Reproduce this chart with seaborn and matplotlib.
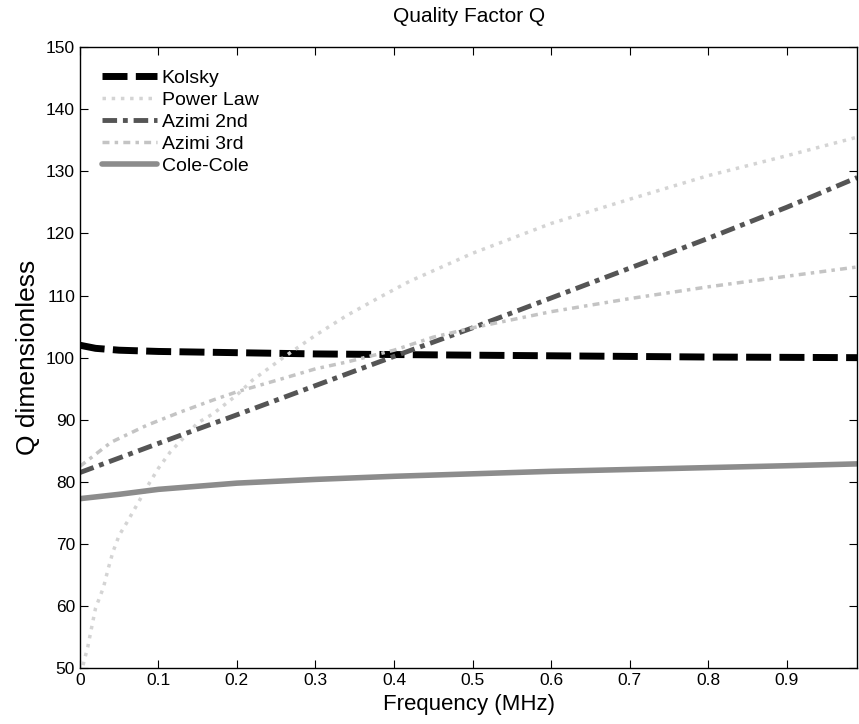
import numpy as np
import pandas as pd
import seaborn as sns
import matplotlib.pyplot as plt

# values
kolsky_f = [0.0, 0.02, 0.05, 0.1, 0.2, 0.3, 0.4, 0.5, 0.6, 0.7, 0.8, 0.9, 0.99]
kolsky_q = [102.0, 101.5, 101.2, 101.0, 100.8, 100.6, 100.5, 100.4, 100.3, 100.2, 100.1, 100.05, 100.0]

power_f = [0.004, 0.01, 0.015, 0.02, 0.03, 0.036, 0.042, 0.05, 0.06, 0.074, 0.087, 0.1, 0.115,
           0.15, 0.17, 0.2, 0.22, 0.26, 0.3, 0.34, 0.38, 0.42, 0.5, 0.6, 0.7, 0.8, 0.9, 0.99]
power_q = [50.5, 53.4, 56.6, 59.7, 63.0, 66.0, 68.7, 71.4, 73.5, 76.6, 79.5, 82.2, 84.8,
           89.5, 91.0, 94.0, 96.4, 100.1, 103.6, 106.8, 109.6, 112.3, 116.8, 121.6, 125.5, 129.3, 132.5, 135.5]

azimi2_f = [0.0, 0.1, 0.2, 0.3, 0.4, 0.5, 0.6, 0.7, 0.8, 0.9, 0.99]
azimi2_q = [81.5, 86.2, 90.8, 95.5, 100.2, 104.8, 109.6, 114.4, 119.2, 124.2, 129.0]

azimi3_f = [0.0, 0.04, 0.085, 0.127, 0.17, 0.2, 0.26, 0.3, 0.34, 0.4, 0.45, 0.5, 0.6, 0.7, 0.8, 0.9, 0.99]
azimi3_q = [82.5, 86.4, 89.1, 91.2, 93.2, 94.5, 96.7, 98.2, 99.3, 101.2, 103.3, 104.8, 107.4, 109.5, 111.4, 113.1, 114.6]

cole_f = [0.0, 0.05, 0.1, 0.2, 0.3, 0.4, 0.5, 0.6, 0.7, 0.8, 0.9, 0.99]
cole_q = [77.3, 78.0, 78.8, 79.8, 80.4, 80.9, 81.3, 81.7, 82.0, 82.3, 82.6, 82.9]

sns.set_style("ticks")
plt.rcParams['font.family'] = ['Liberation Sans', 'DejaVu Sans']
plt.rcParams['text.color'] = 'black'
plt.rcParams['axes.labelcolor'] = 'black'
plt.rcParams['xtick.color'] = 'black'
plt.rcParams['ytick.color'] = 'black'
plt.rcParams['axes.edgecolor'] = 'black'

fig = plt.figure(figsize=(8.59, 7.24), dpi=100)
ax = fig.add_axes([0.093, 0.077, 0.905, 0.858])

sns.lineplot(x=kolsky_f, y=kolsky_q, ax=ax, color='black', lw=5, label='Kolsky')
ax.lines[-1].set_dashes([3.6, 1.2])
sns.lineplot(x=power_f, y=power_q, ax=ax, color='#d4d4d4', lw=2.5, label='Power Law')
ax.lines[-1].set_linestyle(':')
sns.lineplot(x=azimi2_f, y=azimi2_q, ax=ax, color='#555555', lw=3.5, label='Azimi 2nd')
ax.lines[-1].set_dashes([3, 1.2, 1, 1.2])
sns.lineplot(x=azimi3_f, y=azimi3_q, ax=ax, color='#c4c4c4', lw=2.5, label='Azimi 3rd')
ax.lines[-1].set_dashes([2, 1.5, 1, 1.5])
sns.lineplot(x=cole_f, y=cole_q, ax=ax, color='#8c8c8c', lw=4, label='Cole-Cole')

ax.set_xlim(0, 0.99)
ax.set_ylim(50, 150)
ax.set_xticks(np.arange(0, 0.95, 0.1))
ax.set_xticklabels(['0', '0.1', '0.2', '0.3', '0.4', '0.5', '0.6', '0.7', '0.8', '0.9'])
ax.set_yticks(np.arange(50, 151, 10))
ax.tick_params(direction='in', top=True, right=True, labelsize=12.5, length=6)
for s in ax.spines.values():
    s.set_linewidth(1)

ax.set_xlabel('Frequency (MHz)', fontsize=16)
ax.set_ylabel('Q dimensionless', fontsize=19)
ax.set_title('Quality Factor Q', fontsize=15, pad=18)

leg = ax.legend(loc='upper left', frameon=False, fontsize=14, handlelength=2.8,
                handletextpad=0.25, labelspacing=0.22, borderaxespad=0.75)

plt.savefig('out.png', dpi=100)
